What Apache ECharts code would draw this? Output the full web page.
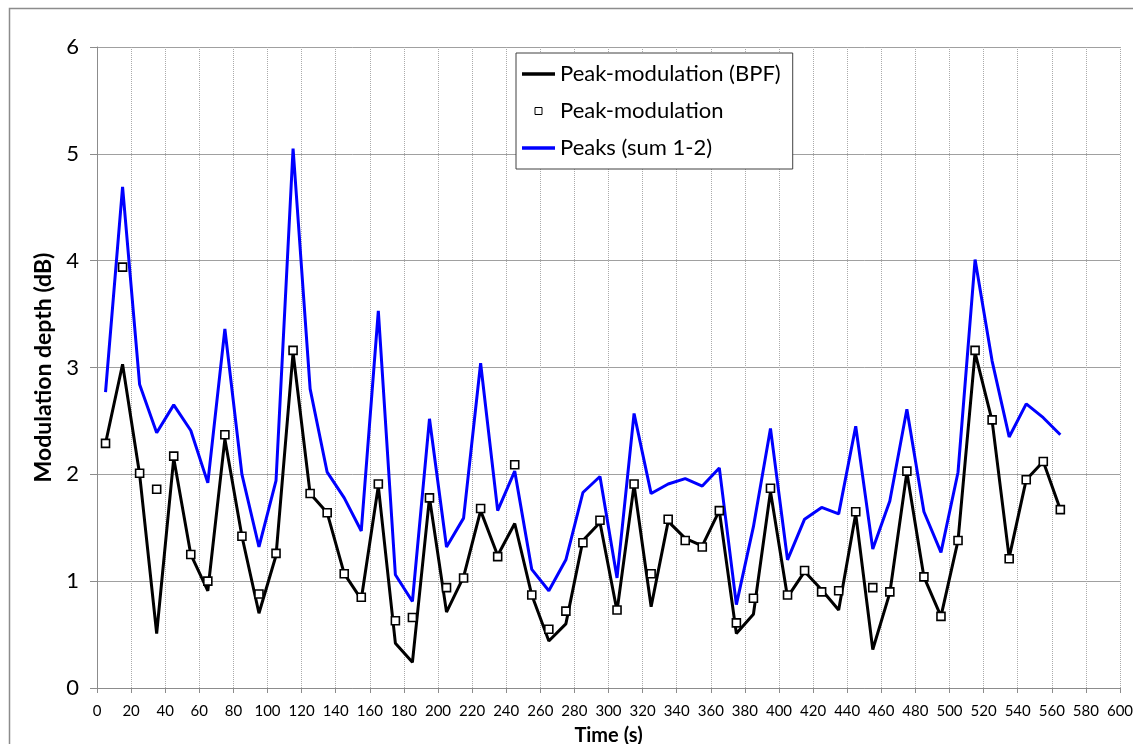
<!DOCTYPE html>
<html>
<head>
<meta charset="utf-8">
<script src="https://cdn.jsdelivr.net/npm/echarts@6/dist/echarts.min.js"></script>
<style>
html,body{margin:0;padding:0;background:#fff;overflow:hidden;}
#chart{width:1133px;height:744px;}
</style>
</head>
<body>
<div id="chart"></div>
<script>
// Time stamps (s)
var times = [5,15,25,35,45,55,65,75,85,95,105,115,125,135,145,155,165,175,185,195,205,215,225,235,245,255,265,275,285,295,305,315,325,335,345,355,365,375,385,395,405,415,425,435,445,455,465,475,485,495,505,515,525,535,545,555,565];
// Peak-modulation (BPF) - black line
var bpf = [2.29,3.03,2.00,0.51,2.15,1.25,0.91,2.33,1.42,0.70,1.24,3.14,1.82,1.64,1.07,0.83,1.89,0.42,0.24,1.78,0.71,1.04,1.66,1.24,1.54,0.87,0.44,0.60,1.38,1.55,0.72,1.90,0.76,1.56,1.40,1.33,1.66,0.51,0.69,1.84,0.85,1.09,0.92,0.73,1.63,0.36,0.89,2.02,1.04,0.67,1.38,3.14,2.50,1.22,1.95,2.12,1.67];
// Peak-modulation - squares
var peakMod = [2.29,3.94,2.01,1.86,2.17,1.25,1.00,2.37,1.42,0.88,1.26,3.16,1.82,1.64,1.07,0.85,1.91,0.63,0.66,1.78,0.94,1.03,1.68,1.23,2.09,0.87,0.55,0.72,1.36,1.57,0.73,1.91,1.07,1.58,1.38,1.32,1.66,0.61,0.84,1.87,0.87,1.10,0.90,0.91,1.65,0.94,0.90,2.03,1.04,0.67,1.38,3.16,2.51,1.21,1.95,2.12,1.67];
// Peaks (sum 1-2) - blue line
var peaksSum = [2.77,4.69,2.84,2.39,2.65,2.41,1.92,3.36,2.00,1.32,1.94,5.05,2.80,2.02,1.78,1.47,3.53,1.06,0.81,2.52,1.32,1.59,3.04,1.66,2.03,1.11,0.91,1.20,1.83,1.98,1.03,2.57,1.82,1.91,1.96,1.89,2.06,0.78,1.51,2.43,1.20,1.58,1.69,1.63,2.45,1.30,1.75,2.61,1.65,1.27,2.02,4.01,3.06,2.35,2.66,2.53,2.37];

var seriesNames = ['Peak-modulation (BPF)','Peak-modulation','Peaks (sum 1-2)'];
var xTicks = {min:0, max:600, interval:20};
var yTicks = {min:0, max:6, interval:1};

function pairs(xs, ys){ return xs.map(function(x,i){ return [x, ys[i]]; }); }

var FONT = 'Lato';
var LINE_ICON = 'path://M0,0 L30,0 L30,3 L0,3 Z';
var SQ_ICON = 'path://M0,0 L10,0 L10,10 L0,10 Z';
var chart = echarts.init(document.getElementById('chart'), null, {renderer:'canvas', width:1133, height:744});
chart.setOption({
  animation:false,
  backgroundColor:'#ffffff',
  graphic:[{
    type:'rect', left:7, top:6, z:-10, silent:true,
    shape:{x:0,y:0,width:1140,height:760},
    style:{fill:'none', stroke:'#8c8c8c', lineWidth:1.5}
  }],
  grid:{left:97, top:47, right:13, bottom:56, containLabel:false, outerBoundsMode:'none'},
  legend:{
    orient:'vertical', left:516, top:53,
    backgroundColor:'#ffffff',
    borderColor:'#404040', borderWidth:1,
    padding:[10,12,10,6],
    itemWidth:33, itemHeight:7, itemGap:15,
    symbolKeepAspect:true,
    textStyle:{fontFamily:FONT, fontSize:22, color:'#000'},
    data:[
      {name:seriesNames[0], icon:LINE_ICON, itemStyle:{color:'#000', borderWidth:0}},
      {name:seriesNames[1], icon:SQ_ICON, itemStyle:{color:'#fff', borderColor:'#000', borderWidth:1}},
      {name:seriesNames[2], icon:LINE_ICON, itemStyle:{color:'#0000ff', borderWidth:0}}
    ]
  },
  xAxis:{
    type:'value', min:xTicks.min, max:xTicks.max, interval:xTicks.interval,
    name:'Time (s)', nameLocation:'middle', nameGap:38,
    nameTextStyle:{fontFamily:FONT, fontWeight:'bold', fontSize:20, color:'#000'},
    axisLine:{show:true, onZero:false, lineStyle:{color:'#8c8c8c', width:1}},
    axisTick:{show:true, length:5, lineStyle:{color:'#8c8c8c'}},
    axisLabel:{fontFamily:FONT, fontSize:15, color:'#000', margin:16},
    splitLine:{show:true, lineStyle:{color:'#aaaaaa', type:'dotted', width:1}}
  },
  yAxis:{
    type:'value', min:yTicks.min, max:yTicks.max, interval:yTicks.interval,
    name:'Modulation depth (dB)', nameLocation:'middle', nameGap:42, nameRotate:90,
    nameTextStyle:{fontFamily:FONT, fontWeight:'bold', fontSize:23, color:'#000'},
    axisLine:{show:true, lineStyle:{color:'#8c8c8c', width:1}},
    axisTick:{show:true, length:7, lineStyle:{color:'#8c8c8c'}},
    axisLabel:{fontFamily:FONT, fontSize:22, color:'#000', margin:18},
    splitLine:{show:true, lineStyle:{color:'#a0a0a0', width:1}}
  },
  series:[
    {
      name:seriesNames[0], type:'line', data:pairs(times,bpf),
      symbol:'none', lineStyle:{color:'#000', width:3}, itemStyle:{color:'#000'}, z:3
    },
    {
      name:seriesNames[1], type:'scatter', data:pairs(times,peakMod),
      symbol:'rect', symbolSize:8,
      itemStyle:{color:'#fff', borderColor:'#000', borderWidth:1.6, opacity:1}, z:4
    },
    {
      name:seriesNames[2], type:'line', data:pairs(times,peaksSum),
      symbol:'none', lineStyle:{color:'#0000ff', width:3}, itemStyle:{color:'#0000ff'}, z:2
    }
  ]
});
</script>
</body>
</html>
